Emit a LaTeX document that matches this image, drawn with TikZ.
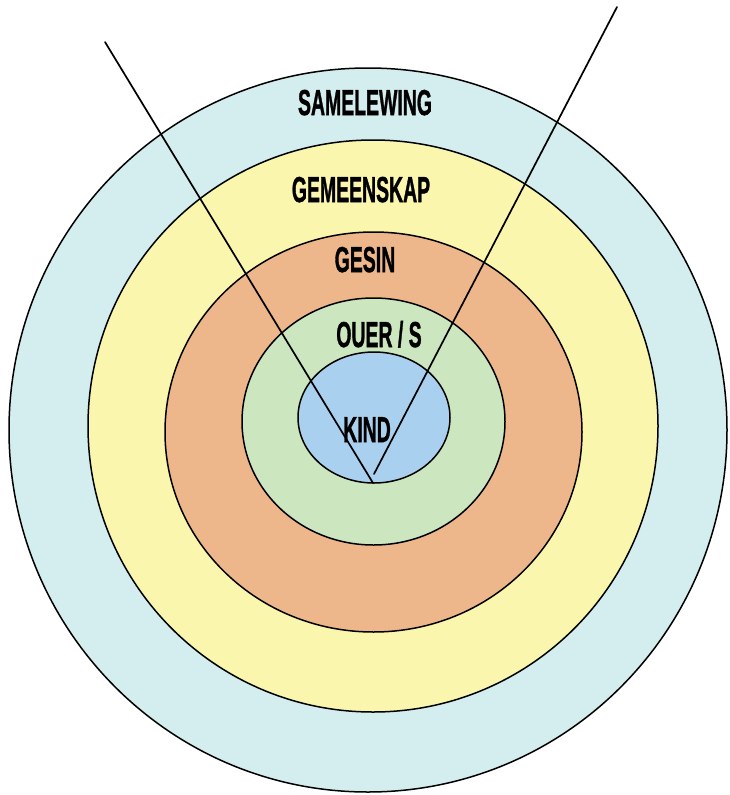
\documentclass[tikz,border=0pt]{standalone}
\usepackage{fontspec}
\setmainfont{Liberation Sans}
\newfontfamily\lblfont[BoldFeatures={FakeBold=1.5}]{Liberation Sans}
\usepackage{graphicx}
\usetikzlibrary{positioning}
\usepackage{xcolor}

\definecolor{samfill}{HTML}{D4EDEE}
\definecolor{gemfill}{HTML}{FBF6AE}
\definecolor{gesfill}{HTML}{EDB78B}
\definecolor{ouefill}{HTML}{CCE6C0}
\definecolor{kinfill}{HTML}{A9D1EF}

\newcommand{\narrowtxt}[1]{\scalebox{0.54}[1]{#1}}

\begin{document}
\begin{tikzpicture}[
    x=1pt, y=-1pt,
    ring/.style={draw=black, line width=1.5pt},
    lbl/.style={font=\lblfont\fontsize{36}{40}\selectfont\bfseries, inner sep=0pt, anchor=base},
    ray/.style={line width=1.7pt, line cap=round}
  ]
  \useasboundingbox (0,0) rectangle (729,795);

  % --- rings, outer to inner ---
  \filldraw[ring, fill=samfill] (368,430) ellipse [x radius=359pt, y radius=362pt];
  \filldraw[ring, fill=gemfill] (373,426) ellipse [x radius=285pt, y radius=286pt];
  \filldraw[ring, fill=gesfill] (373.5,432) ellipse [x radius=208.5pt, y radius=200pt];
  \filldraw[ring, fill=ouefill] (373.5,421.5) ellipse [x radius=131.5pt, y radius=123.5pt];
  \filldraw[ring, fill=kinfill] (374,417.5) ellipse [x radius=76pt, y radius=65.5pt];

  % --- labels ---
  \node[lbl] (sam) at (365,115) {\narrowtxt{SAMELEWING}};
  \node[lbl] (gem) at (361,202) {\narrowtxt{GEMEENSKAP}};
  \node[lbl] (ges) at (365,272) {\narrowtxt{GESIN}};
  \node[lbl] (oue) at (379,347) {\narrowtxt{OUER / S}};
  \node[lbl] (kin) at (367,442) {\narrowtxt{KIND}};

  % --- the two rays down to the child ---
  \coordinate (ltop) at (105,42);
  \coordinate (rtop) at (617,7);
  \coordinate (lapex) at (373,483);
  \coordinate (rapex) at (374,474);
  \draw[ray] (ltop) -- (lapex);
  \draw[ray] (rtop) -- (rapex);
\end{tikzpicture}
\end{document}
